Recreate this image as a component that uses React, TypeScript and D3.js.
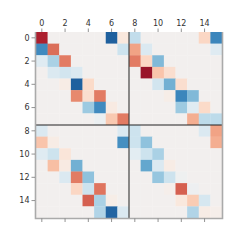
import React, { useEffect, useRef } from "react";
import * as d3 from "d3";

// 16x16 matrix, positive = red, negative = blue (RdBu)
const rows: number[][] = [
  [0.8, 0, 0, 0, 0, 0, -0.82, 0.1, -0.24, 0, 0, 0, 0, 0, 0.2, -0.66],
  [-0.64, 0.56, 0, 0, 0, 0, 0, -0.2, 0.4, -0.14, 0, 0, 0, 0, 0, -0.12],
  [-0.12, -0.32, 0.52, 0, 0, 0, 0, 0, 0.52, 0.2, -0.44, 0, 0, 0, 0, 0],
  [0, -0.14, -0.18, -0.14, 0, 0, 0, 0, 0, 0.86, 0.28, 0.16, 0, 0, 0, 0],
  [0, 0, 0.06, -0.82, 0.18, 0, 0, 0, 0, 0, -0.18, -0.48, 0.16, 0, 0, 0],
  [0, 0, 0, 0.48, 0.16, 0.52, 0, 0, 0, 0, 0, 0.05, -0.66, -0.44, 0, 0],
  [0, 0, 0, 0, -0.36, -0.64, 0.08, 0, 0, 0, 0, 0, -0.36, -0.12, 0.18, 0],
  [0, 0, 0, 0, 0, -0.05, 0.26, 0.52, 0, 0, 0, 0, 0, 0.36, -0.26, -0.26],
  [-0.14, 0, 0, 0, 0, 0, 0, -0.14, -0.2, 0, 0, 0, 0, 0, -0.14, 0.4],
  [0.28, 0.06, 0, 0, 0, 0, 0, -0.62, -0.2, -0.4, 0, 0, 0, 0, 0, 0.36],
  [-0.12, -0.2, 0.12, 0, 0, 0, 0, 0, -0.1, -0.2, -0.32, 0, 0, 0, 0, 0],
  [0, 0.3, 0.08, -0.48, 0, 0, 0, 0, 0, -0.52, -0.14, 0.06, 0, 0, 0, 0],
  [0, 0, -0.14, 0.52, -0.4, 0, 0, 0, 0, 0, -0.38, -0.2, -0.03, 0, 0, 0],
  [0, 0, 0, 0.2, -0.2, 0.54, 0, 0, 0, 0, 0, 0.03, 0.6, -0.04, 0, 0],
  [0, 0, 0, 0, 0.6, -0.32, 0.05, 0, 0, 0, 0, 0, 0.1, 0.25, -0.16, 0],
  [0, 0, 0, 0, 0, -0.3, -0.8, -0.14, 0, 0, 0, 0, 0, -0.3, 0.06, 0.03],
];
const indices = d3.range(16);
const tickValues = [0, 2, 4, 6, 8, 10, 12, 14];
const blockSplit = 8;

const App: React.FC = () => {
  const ref = useRef<SVGSVGElement | null>(null);

  useEffect(() => {
    if (!ref.current) return;
    const svg = d3.select(ref.current);
    svg.selectAll("*").remove();

    const left = 36;
    const top = 32;
    const size = 186;

    const x = d3.scaleBand<number>().domain(indices).range([left, left + size]);
    const y = d3.scaleBand<number>().domain(indices).range([top, top + size]);
    const color = (v: number) => d3.interpolateRdBu(0.5 - v / 2);

    // cells
    const cells = rows.flatMap((r, i) => r.map((v, j) => ({ i, j, v })));
    svg
      .append("g")
      .selectAll("rect")
      .data(cells)
      .join("rect")
      .attr("x", (d) => x(d.j)!)
      .attr("y", (d) => y(d.i)!)
      .attr("width", x.bandwidth() + 0.3)
      .attr("height", y.bandwidth() + 0.3)
      .attr("fill", (d) => color(d.v));

    // block separators
    const sx = x(blockSplit)!;
    const sy = y(blockSplit)!;
    svg
      .append("line")
      .attr("x1", left)
      .attr("x2", left + size)
      .attr("y1", sy)
      .attr("y2", sy)
      .attr("stroke", "#222")
      .attr("stroke-width", 1.2);
    svg
      .append("line")
      .attr("x1", sx)
      .attr("x2", sx)
      .attr("y1", top)
      .attr("y2", top + size)
      .attr("stroke", "#444")
      .attr("stroke-width", 1.2);

    // spines (left, right, bottom)
    svg
      .append("path")
      .attr(
        "d",
        `M${left - 0.5},${top} V${top + size + 0.5} H${left + size + 0.5} V${top}`
      )
      .attr("fill", "none")
      .attr("stroke", "#aaa")
      .attr("stroke-width", 1.6);

    const pos = (sc: d3.ScaleBand<number>, v: number) =>
      sc(v)! + sc.bandwidth() / 2;

    // top ticks + labels, bottom ticks only
    const gTop = svg.append("g");
    tickValues.forEach((t) => {
      const px = pos(x, t);
      gTop
        .append("line")
        .attr("x1", px)
        .attr("x2", px)
        .attr("y1", top - 3.5)
        .attr("y2", top)
        .attr("stroke", "#777")
        .attr("stroke-width", 0.8);
      gTop
        .append("text")
        .attr("x", px)
        .attr("y", top - 6)
        .attr("text-anchor", "middle")
        .style("font-family", "DejaVu Sans")
        .style("font-size", "8px")
        .attr("fill", "#333")
        .text(t);
      gTop
        .append("line")
        .attr("x1", px)
        .attr("x2", px)
        .attr("y1", top + size + 0.5)
        .attr("y2", top + size + 4)
        .attr("stroke", "#777")
        .attr("stroke-width", 0.8);
    });

    // left ticks + labels
    const gLeft = svg.append("g");
    tickValues.forEach((t) => {
      const py = pos(y, t);
      gLeft
        .append("line")
        .attr("x1", left - 4.5)
        .attr("x2", left - 1)
        .attr("y1", py)
        .attr("y2", py)
        .attr("stroke", "#777")
        .attr("stroke-width", 0.8);
      gLeft
        .append("text")
        .attr("x", left - 6.5)
        .attr("y", py)
        .attr("dy", "0.35em")
        .attr("text-anchor", "end")
        .style("font-family", "DejaVu Sans")
        .style("font-size", "8px")
        .attr("fill", "#333")
        .text(t);
    });
  }, []);

  return (
    <svg
      ref={ref}
      width={240}
      height={240}
      style={{ position: "absolute", left: 0, top: 0 }}
    ></svg>
  );
};

export default App;
